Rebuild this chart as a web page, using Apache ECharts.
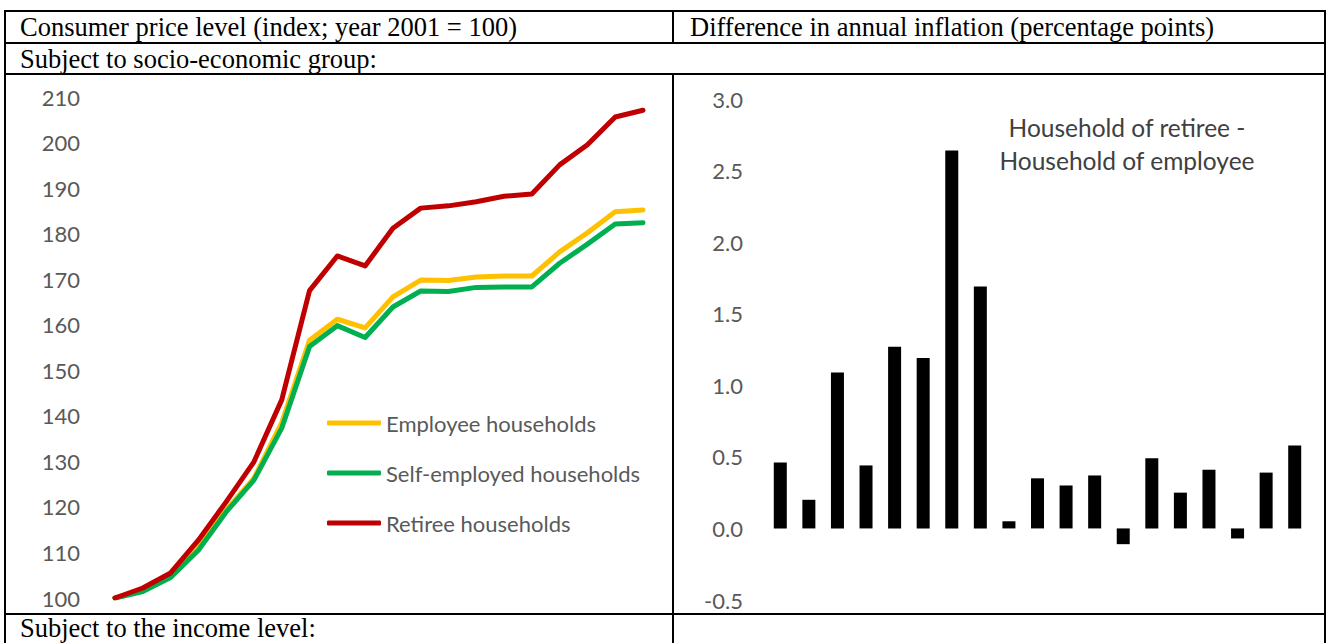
<!DOCTYPE html>
<html>
<head>
<meta charset="utf-8">
<script src="https://cdn.jsdelivr.net/npm/echarts@6/dist/echarts.min.js"></script>
<style>
  html, body { margin: 0; padding: 0; background: #fff; }
  #main { width: 1327px; height: 643px; }
</style>
</head>
<body>
<div id="main"></div>
<script>
// price index, year 2001 = 100
var years = ['2001','2002','2003','2004','2005','2006','2007','2008','2009','2010',
             '2011','2012','2013','2014','2015','2016','2017','2018','2019','2020'];
var employee = [100, 101.8, 104.8, 111.0, 119.3, 126.3, 138.5, 156.6, 161.2, 159.3,
                166.1, 169.8, 169.7, 170.5, 170.7, 170.7, 176.0, 180.2, 184.8, 185.2];
var selfEmployed = [100, 101.4, 104.5, 110.5, 118.9, 125.9, 137.3, 155.2, 159.8, 157.2,
                    163.9, 167.4, 167.3, 168.2, 168.3, 168.3, 173.5, 177.7, 182.1, 182.4];
var retiree = [100, 102.2, 105.5, 112.7, 121.1, 129.9, 143.5, 167.5, 175.1, 172.9,
               181.2, 185.6, 186.1, 187.0, 188.2, 188.7, 195.1, 199.5, 205.6, 207.1];

// retiree minus employee, annual inflation (pp)
var diffYears = years.slice(1);
var diff = [0.46, 0.20, 1.09, 0.44, 1.27, 1.19, 2.64, 1.69, 0.05, 0.35,
            0.30, 0.37, -0.11, 0.49, 0.25, 0.41, -0.07, 0.39, 0.58];

var headLeft = 'Consumer price level (index; year 2001 = 100)';
var headRight = 'Difference in annual inflation (percentage points)';
var rowTop = 'Subject to socio-economic group:';
var rowBottom = 'Subject to the income level:';
var note = 'Household of retiree -\nHousehold of employee';

var gray = '#595959';
var sans = 'Lato';
var serif = 'Liberation Serif';

function hline(y, x1, x2) {
  return { type: 'line', shape: { x1: x1, y1: y, x2: x2, y2: y }, style: { stroke: '#000', lineWidth: 2 } };
}
function vline(x, y1, y2) {
  return { type: 'line', shape: { x1: x, y1: y1, x2: x, y2: y2 }, style: { stroke: '#000', lineWidth: 2 } };
}
function cellText(txt, x, y) {
  return { type: 'text', x: x, y: y,
    style: { text: txt, fill: '#000', font: '26.5px "' + serif + '"', verticalAlign: 'middle' } };
}

var myChart = echarts.init(document.getElementById('main'), null, { renderer: 'svg' });

myChart.setOption({
  backgroundColor: '#fff',
  animation: false,
  grid: [
    { left: 115, top: 97, width: 528, height: 501 },
    { left: 766, top: 99, width: 543, height: 501 }
  ],
  xAxis: [
    { type: 'category', gridIndex: 0, data: years, boundaryGap: false, show: false },
    { type: 'category', gridIndex: 1, data: diffYears, boundaryGap: true, show: false }
  ],
  yAxis: [
    { type: 'value', gridIndex: 0, min: 100, max: 210, interval: 10,
      axisLine: { show: false }, axisTick: { show: false }, splitLine: { show: false },
      axisLabel: { margin: 35, color: gray, fontFamily: sans, fontSize: 22 } },
    { type: 'value', gridIndex: 1, min: -0.5, max: 3.0, interval: 0.5,
      axisLine: { show: false }, axisTick: { show: false }, splitLine: { show: false },
      axisLabel: { margin: 23, color: gray, fontFamily: sans, fontSize: 22,
        formatter: function (v) { return v.toFixed(1); } } }
  ],
  legend: {
    orient: 'vertical', left: 322, top: 406,
    itemWidth: 54, itemHeight: 5, itemGap: 26,
    icon: 'roundRect',
    textStyle: { color: gray, fontFamily: sans, fontSize: 22, lineHeight: 24 },
    data: ['Employee households', 'Self-employed households', 'Retiree households']
  },
  series: [
    { name: 'Employee households', type: 'line', xAxisIndex: 0, yAxisIndex: 0,
      data: employee, symbol: 'none', color: '#FFC000',
      lineStyle: { width: 5, cap: 'round', join: 'round' } },
    { name: 'Self-employed households', type: 'line', xAxisIndex: 0, yAxisIndex: 0,
      data: selfEmployed, symbol: 'none', color: '#00B050',
      lineStyle: { width: 5, cap: 'round', join: 'round' } },
    { name: 'Retiree households', type: 'line', xAxisIndex: 0, yAxisIndex: 0,
      data: retiree, symbol: 'none', color: '#C00000',
      lineStyle: { width: 5, cap: 'round', join: 'round' } },
    { name: 'diff', type: 'bar', xAxisIndex: 1, yAxisIndex: 1,
      data: diff, barWidth: 13, itemStyle: { color: '#000' } }
  ],
  graphic: [
    hline(11, 4, 1326), hline(43, 4, 1326), hline(74, 4, 1326), hline(614, 4, 1326),
    vline(5, 10, 643), vline(1325, 10, 643), vline(673, 10, 43), vline(673, 74, 643),
    cellText(headLeft, 20, 27), cellText(headRight, 690, 27),
    cellText(rowTop, 20, 59), cellText(rowBottom, 20, 628),
    { type: 'text', x: 1127, y: 144,
      style: { text: note, fill: '#404040', font: '24.5px "' + sans + '"',
        align: 'center', verticalAlign: 'middle', lineHeight: 33 } }
  ]
});
</script>
</body>
</html>
